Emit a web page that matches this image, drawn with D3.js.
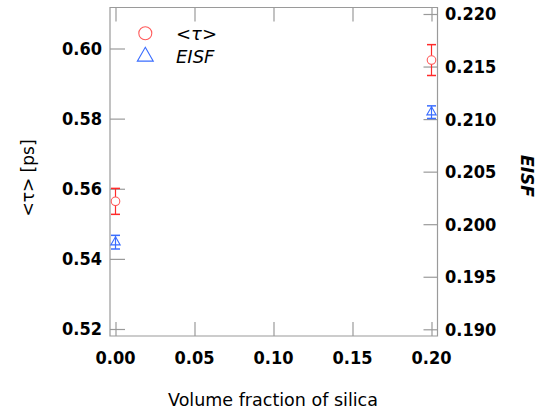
<!DOCTYPE html>
<html>
<head>
<meta charset="utf-8">
<script src="https://cdn.jsdelivr.net/npm/d3@7"></script>
<style>
html,body{margin:0;padding:0;background:#fff;}
svg{display:block;}
</style>
</head>
<body>
<svg id="chart" width="547" height="414"></svg>
<script>
// ---- data ----
const fractions = [0.00, 0.20];
const tauValues = [0.5564, 0.5967];
const tauErrors = [0.0037, 0.0044];
const eisfValues = [0.19829, 0.21066];
const eisfErrors = [0.00065, 0.00060];
const xTicks = [0.00, 0.05, 0.10, 0.15, 0.20];
const yLeftTicks = [0.52, 0.54, 0.56, 0.58, 0.60];
const yRightTicks = [0.190, 0.195, 0.200, 0.205, 0.210, 0.215, 0.220];
const legendLabels = ["<τ>", "EISF"];

// ---- layout ----
const L = 110, R = 437.5, T = 7.5, B = 336;
const svg = d3.select("#chart");
const x = d3.scaleLinear().domain([0, 0.20]).range([115.5, 431.5]);
const yL = d3.scaleLinear().domain([0.52, 0.60]).range([329, 48.5]);
const yR = d3.scaleLinear().domain([0.190, 0.220]).range([329.3, 14]);

const red = "#ff2a2a", redM = "#ff5a5a", blue = "#3a6dff", axisCol = "#9a9a9a";
const tickFont = "'DejaVu Sans Condensed', 'DejaVu Sans', sans-serif";
const labFont = "'DejaVu Sans', sans-serif";

// frame
svg.append("path")
  .attr("d", `M${L},${T}H${R}V${B}H${L}Z`)
  .attr("fill", "none").attr("stroke", axisCol).attr("stroke-width", 1.2);

// left axis (ticks inward)
const gL = svg.append("g").attr("transform", `translate(${L},0)`)
  .call(d3.axisRight(yL).tickValues(yLeftTicks).tickSize(15).tickFormat(""));
gL.select(".domain").remove();
gL.selectAll("line").attr("stroke", axisCol).attr("stroke-width", 1.2);
svg.append("g").selectAll("text").data(yLeftTicks).join("text")
  .attr("x", 102).attr("y", d => yL(d)).attr("dy", "0.36em")
  .attr("text-anchor", "end").attr("font-family", tickFont)
  .attr("font-weight", "bold").attr("font-size", 18).attr("fill", "#000")
  .text(d3.format(".2f"));

// right axis
const gR = svg.append("g").attr("transform", `translate(${R},0)`)
  .call(d3.axisLeft(yR).tickValues(yRightTicks).tickSize(14).tickFormat(""));
gR.select(".domain").remove();
gR.selectAll("line").attr("stroke", axisCol).attr("stroke-width", 1.2);
svg.append("g").selectAll("text").data(yRightTicks).join("text")
  .attr("x", 445).attr("y", d => yR(d)).attr("dy", "0.36em")
  .attr("text-anchor", "start").attr("font-family", tickFont)
  .attr("font-weight", "bold").attr("font-size", 18).attr("fill", "#000")
  .text(d3.format(".3f"));

// bottom axis
const gB = svg.append("g").attr("transform", `translate(0,${B})`)
  .call(d3.axisTop(x).tickValues(xTicks).tickSize(14).tickFormat(""));
gB.select(".domain").remove();
gB.selectAll("line").attr("stroke", axisCol).attr("stroke-width", 1.2);
svg.append("g").selectAll("text").data(xTicks).join("text")
  .attr("x", d => x(d)).attr("y", 363.5)
  .attr("text-anchor", "middle").attr("font-family", tickFont)
  .attr("font-weight", "bold").attr("font-size", 18).attr("fill", "#000")
  .text(d3.format(".2f"));

// top axis
const gT = svg.append("g").attr("transform", `translate(0,${T})`)
  .call(d3.axisBottom(x).tickValues(xTicks).tickSize(14).tickFormat(""));
gT.select(".domain").remove();
gT.selectAll("line").attr("stroke", axisCol).attr("stroke-width", 1.2);

// axis titles
svg.append("text")
  .attr("transform", "translate(34,178) rotate(-90)")
  .attr("text-anchor", "middle").attr("font-family", labFont)
  .attr("font-size", 17).attr("fill", "#000").text("<τ> [ps]");
svg.append("text")
  .attr("transform", "translate(521,176) rotate(90)")
  .attr("text-anchor", "middle").attr("font-family", labFont)
  .attr("font-style", "italic").attr("font-weight", "bold")
  .attr("font-size", 17).attr("fill", "#000").text("EISF");
svg.append("text")
  .attr("x", 273).attr("y", 406)
  .attr("text-anchor", "middle").attr("font-family", labFont)
  .attr("font-size", 17.5).attr("fill", "#000").text("Volume fraction of silica");

// error bars helper
function errorBars(vals, errs, yScale, color) {
  const g = svg.append("g");
  const d = fractions.map((f, i) => ({f, v: vals[i], e: errs[i]}));
  g.selectAll(".v").data(d).join("line")
    .attr("x1", p => x(p.f)).attr("x2", p => x(p.f))
    .attr("y1", p => yScale(p.v + p.e)).attr("y2", p => yScale(p.v - p.e))
    .attr("stroke", color).attr("stroke-width", 1.2);
  ["+", "-"].forEach(s => {
    g.selectAll(".c" + (s === "+" ? "p" : "m")).data(d).join("line")
      .attr("x1", p => x(p.f) - 4.5).attr("x2", p => x(p.f) + 4.5)
      .attr("y1", p => yScale(s === "+" ? p.v + p.e : p.v - p.e))
      .attr("y2", p => yScale(s === "+" ? p.v + p.e : p.v - p.e))
      .attr("stroke", color).attr("stroke-width", 1.5);
  });
}
errorBars(tauValues, tauErrors, yL, red);
errorBars(eisfValues, eisfErrors, yR, blue);

// markers
svg.append("g").selectAll("circle").data(fractions).join("circle")
  .attr("cx", d => x(d)).attr("cy", (d, i) => yL(tauValues[i])).attr("r", 4.3)
  .attr("fill", "#fff").attr("stroke", redM).attr("stroke-width", 1.1);
const tri = d3.symbol().type(d3.symbolTriangle).size(38);
svg.append("g").selectAll("path").data(fractions).join("path")
  .attr("transform", (d, i) => `translate(${x(d)},${yR(eisfValues[i])})`)
  .attr("d", tri).attr("fill", "none").attr("stroke", blue).attr("stroke-width", 1.1);

// legend
const lg = svg.append("g");
lg.append("circle").attr("cx", 145.3).attr("cy", 33.3).attr("r", 6.5)
  .attr("fill", "none").attr("stroke", redM).attr("stroke-width", 1.1);
lg.append("path").attr("transform", "translate(145.3,56.5)")
  .attr("d", d3.symbol().type(d3.symbolTriangle).size(110))
  .attr("fill", "none").attr("stroke", blue).attr("stroke-width", 1.1);
lg.selectAll("text").data(legendLabels).join("text")
  .attr("x", 176).attr("y", (d, i) => i === 0 ? 33.3 : 56.5).attr("dy", "0.36em")
  .attr("font-family", labFont).attr("font-style", "italic")
  .attr("font-size", 18).attr("fill", "#000").text(d => d);
</script>
</body>
</html>
